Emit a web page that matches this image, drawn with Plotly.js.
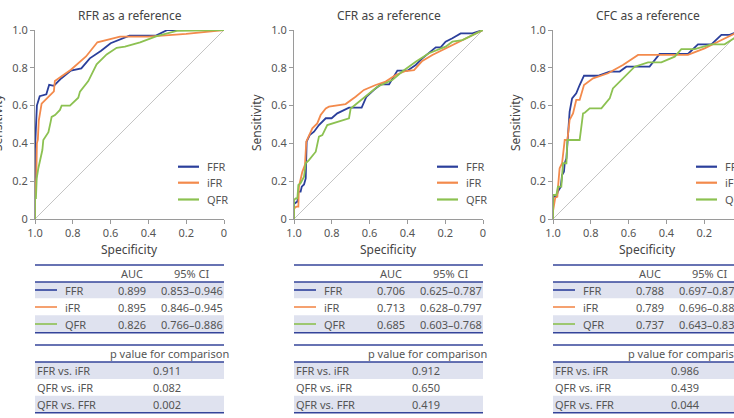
<!DOCTYPE html>
<html>
<head>
<meta charset="utf-8">
<script src="https://cdn.plot.ly/plotly-3.0.1.min.js"></script>
<style>
html,body{margin:0;padding:0;width:734px;height:418px;overflow:hidden;background:#fff;}
#chart{position:absolute;left:-20px;top:0;width:780px;height:418px;}
</style>
</head>
<body>
<div id="chart"></div>
<script>
// ---------- data ----------
const panelTitles = ["RFR as a reference", "CFR as a reference", "CFC as a reference"];
const seriesNames = ["FFR", "iFR", "QFR"];
const xTickVals = [1, 0.8, 0.6, 0.4, 0.2, 0];
const xTickText = ["1.0", "0.8", "0.6", "0.4", "0.2", "0"];
const yTickVals = [0, 0.2, 0.4, 0.6, 0.8, 1];
const yTickText = ["0", "0.2", "0.4", "0.6", "0.8", "1.0"];
const chanceSpec = [1, 0];
const chanceSens = [0, 1];

// Panel 1: RFR as a reference
const rfrFFRspec = [1, 1, 0.99, 0.975, 0.94, 0.925, 0.90, 0.86, 0.81, 0.755, 0.71, 0.65, 0.60, 0.55, 0.50, 0.36, 0.30, 0];
const rfrFFRsens = [0, 0.37, 0.60, 0.65, 0.66, 0.71, 0.705, 0.745, 0.785, 0.797, 0.85, 0.89, 0.93, 0.95, 0.97, 0.97, 1.0, 1.0];
const rfrIFRspec = [1, 1, 0.993, 0.99, 0.985, 0.98, 0.965, 0.90, 0.895, 0.86, 0.81, 0.73, 0.67, 0.55, 0.40, 0.2, 0];
const rfrIFRsens = [0, 0.12, 0.22, 0.40, 0.42, 0.52, 0.61, 0.675, 0.73, 0.755, 0.79, 0.86, 0.935, 0.965, 0.965, 0.98, 1.0];
const rfrQFRspec = [1, 1, 0.995, 0.991, 0.982, 0.97, 0.961, 0.956, 0.929, 0.917, 0.912, 0.894, 0.868, 0.859, 0.815, 0.771, 0.762, 0.718, 0.674, 0.621, 0.568, 0.524, 0.444, 0.356, 0.25, 0];
const rfrQFRsens = [0, 0.11, 0.11, 0.215, 0.27, 0.33, 0.365, 0.418, 0.459, 0.515, 0.54, 0.55, 0.577, 0.60, 0.60, 0.642, 0.674, 0.73, 0.818, 0.871, 0.906, 0.912, 0.935, 0.968, 0.995, 1.0];

// Panel 2: CFR as a reference
const cfrFFRspec = [1, 1, 0.982, 0.977, 0.965, 0.959, 0.947, 0.938, 0.933, 0.917, 0.894, 0.868, 0.832, 0.801, 0.771, 0.709, 0.642, 0.617, 0.577, 0.541, 0.497, 0.453, 0.40, 0.356, 0.321, 0.286, 0.25, 0.224, 0.198, 0.162, 0.118, 0.056, 0];
const cfrFFRsens = [0, 0.08, 0.092, 0.145, 0.145, 0.171, 0.183, 0.215, 0.41, 0.444, 0.462, 0.497, 0.533, 0.533, 0.559, 0.589, 0.589, 0.647, 0.683, 0.712, 0.712, 0.785, 0.785, 0.815, 0.85, 0.877, 0.908, 0.908, 0.938, 0.956, 0.982, 0.982, 1.0];
const cfrIFRspec = [1, 1, 0.988, 0.977, 0.974, 0.956, 0.942, 0.935, 0.903, 0.877, 0.859, 0.832, 0.815, 0.727, 0.674, 0.630, 0.568, 0.515, 0.462, 0.409, 0.365, 0.321, 0.268, 0.215, 0.162, 0.109, 0.056, 0];
const cfrIFRsens = [0, 0.056, 0.065, 0.065, 0.171, 0.25, 0.286, 0.409, 0.48, 0.506, 0.55, 0.585, 0.594, 0.608, 0.647, 0.683, 0.709, 0.727, 0.762, 0.783, 0.788, 0.836, 0.868, 0.894, 0.924, 0.947, 0.974, 1.0];
const cfrQFRspec = [1, 1, 0.991, 0.982, 0.977, 0.965, 0.947, 0.938, 0.921, 0.885, 0.868, 0.85, 0.824, 0.797, 0.762, 0.709, 0.70, 0.656, 0.612, 0.559, 0.48, 0.427, 0.356, 0.286, 0.198, 0.162, 0.109, 0.056, 0];
const cfrQFRsens = [0, 0.1, 0.109, 0.109, 0.18, 0.19, 0.224, 0.295, 0.312, 0.356, 0.436, 0.444, 0.497, 0.506, 0.515, 0.533, 0.585, 0.621, 0.656, 0.70, 0.735, 0.78, 0.832, 0.877, 0.912, 0.938, 0.947, 0.974, 1.0];

// Panel 3: CFC as a reference
const cfcFFRspec = [1, 1, 0.991, 0.982, 0.974, 0.959, 0.952, 0.942, 0.938, 0.929, 0.917, 0.912, 0.899, 0.877, 0.859, 0.836, 0.762, 0.70, 0.647, 0.612, 0.489, 0.436, 0.286, 0.233, 0.162, 0.109, 0.065, 0];
const cfcFFRsens = [0, 0.11, 0.123, 0.118, 0.145, 0.171, 0.233, 0.25, 0.295, 0.321, 0.497, 0.568, 0.638, 0.665, 0.709, 0.758, 0.758, 0.78, 0.78, 0.806, 0.806, 0.873, 0.873, 0.924, 0.924, 0.974, 0.974, 1.0];
const cfcIFRspec = [1, 1, 0.988, 0.977, 0.974, 0.965, 0.952, 0.938, 0.924, 0.917, 0.912, 0.894, 0.877, 0.859, 0.836, 0.788, 0.709, 0.630, 0.550, 0.286, 0.198, 0.127, 0.056, 0];
const cfcIFRsens = [0, 0.04, 0.113, 0.118, 0.162, 0.268, 0.295, 0.418, 0.418, 0.48, 0.524, 0.559, 0.63, 0.63, 0.709, 0.744, 0.771, 0.815, 0.868, 0.868, 0.903, 0.938, 0.974, 1.0];
const cfcQFRspec = [1, 1, 0.982, 0.974, 0.956, 0.947, 0.929, 0.924, 0.859, 0.841, 0.832, 0.806, 0.744, 0.70, 0.683, 0.621, 0.568, 0.497, 0.427, 0.356, 0.321, 0.25, 0.198, 0.162, 0.092, 0.042, 0];
const cfcQFRsens = [0, 0.127, 0.127, 0.171, 0.171, 0.295, 0.295, 0.418, 0.418, 0.559, 0.562, 0.585, 0.585, 0.638, 0.691, 0.753, 0.806, 0.829, 0.829, 0.859, 0.899, 0.899, 0.912, 0.924, 0.924, 0.956, 1.0];

// Tables
const tableHeaders = ["AUC", "95% CI"];
const aucFFR = ["0.899", "0.706", "0.788"];
const aucIFR = ["0.895", "0.713", "0.789"];
const aucQFR = ["0.826", "0.685", "0.737"];
const ciFFR = ["0.853–0.946", "0.625–0.787", "0.697–0.879"];
const ciIFR = ["0.846–0.945", "0.628–0.797", "0.696–0.882"];
const ciQFR = ["0.766–0.886", "0.603–0.768", "0.643–0.831"];
const compHeader = "p value for comparison";
const compLabels = ["FFR vs. iFR", "QFR vs. iFR", "QFR vs. FFR"];
const pFFRvsIFR = ["0.911", "0.912", "0.986"];
const pQFRvsIFR = ["0.082", "0.650", "0.439"];
const pQFRvsFFR = ["0.002", "0.419", "0.044"];

// ---------- styling / layout ----------
const colors = ["#2b3f9b", "#f38a4c", "#8cc151"];
const FONT = "Noto Sans, sans-serif";
const W = 780, H = 418, OFF = 20;
const plotLeft = [35, 294, 553];
const plotW = 189, plotTop = 30, plotBottom = 219;
const px = x => (x + OFF) / W;
const py = y => (H - y) / H;

const specs = [[rfrFFRspec, rfrIFRspec, rfrQFRspec], [cfrFFRspec, cfrIFRspec, cfrQFRspec], [cfcFFRspec, cfcIFRspec, cfcQFRspec]];
const sens = [[rfrFFRsens, rfrIFRsens, rfrQFRsens], [cfrFFRsens, cfrIFRsens, cfrQFRsens], [cfcFFRsens, cfcIFRsens, cfcQFRsens]];
const aucs = [aucFFR, aucIFR, aucQFR];
const cis = [ciFFR, ciIFR, ciQFR];
const pvals = [pFFRvsIFR, pQFRvsIFR, pQFRvsFFR];

const traces = [];
const layout = {
  width: W, height: H, autosize: false,
  margin: {l: 0, r: 0, t: 0, b: 0},
  paper_bgcolor: "#fff", plot_bgcolor: "rgba(0,0,0,0)",
  showlegend: false,
  font: {family: FONT, color: "#555", size: 11},
  shapes: [], annotations: []
};
const textColor = "#555";
const navy = "#34449a";
const band = "#dfe2ef";

for (let p = 0; p < 3; p++) {
  const sfx = p === 0 ? "" : String(p + 1);
  const L = plotLeft[p];
  layout["xaxis" + sfx] = {
    domain: [px(L), px(L + plotW)], anchor: "y" + sfx,
    range: [1, 0], tickvals: xTickVals, ticktext: xTickText,
    showline: true, linecolor: "#9a9a9a", linewidth: 1,
    ticks: "outside", ticklen: 4, tickcolor: "#9a9a9a",
    showgrid: false, zeroline: false, fixedrange: true,
    tickfont: {size: 11, color: textColor, family: FONT}
  };
  layout["yaxis" + sfx] = {
    domain: [py(plotBottom), py(plotTop)], anchor: "x" + sfx,
    range: [0, 1], tickvals: yTickVals, ticktext: yTickText,
    showline: true, linecolor: "#9a9a9a", linewidth: 1,
    ticks: "outside", ticklen: 4, tickcolor: "#9a9a9a",
    showgrid: false, zeroline: false, fixedrange: true,
    tickfont: {size: 11, color: textColor, family: FONT}
  };
  traces.push({x: chanceSpec, y: chanceSens, xaxis: "x" + sfx, yaxis: "y" + sfx,
    mode: "lines", line: {color: "#b5b5b5", width: 0.8}, hoverinfo: "skip"});
  for (let s = 0; s < 3; s++) {
    traces.push({x: specs[p][s], y: sens[p][s], xaxis: "x" + sfx, yaxis: "y" + sfx,
      mode: "lines", name: seriesNames[s], line: {color: colors[s], width: 1.8}, hoverinfo: "skip"});
  }
  // titles
  layout.annotations.push({text: panelTitles[p], xref: "paper", yref: "paper",
    x: px(L + plotW / 2), y: py(15), xanchor: "center", yanchor: "middle", showarrow: false,
    font: {size: 12, color: "#444", family: FONT}});
  layout.annotations.push({text: "Specificity", xref: "paper", yref: "paper",
    x: px(L + plotW / 2), y: py(249.5), xanchor: "center", yanchor: "middle", showarrow: false,
    font: {size: 12, color: "#444", family: FONT}});
  layout.annotations.push({text: "Sensitivity", xref: "paper", yref: "paper",
    x: px(L - 37), y: py(122), xanchor: "center", yanchor: "middle", showarrow: false, textangle: -90,
    font: {size: 12, color: "#444", family: FONT}});
  // in-plot legend
  const legY = [166.7, 182.7, 199.5];
  for (let s = 0; s < 3; s++) {
    layout.shapes.push({type: "line", xref: "paper", yref: "paper",
      x0: px(L + 143), x1: px(L + 164), y0: py(legY[s]), y1: py(legY[s]),
      line: {color: colors[s], width: 2.2}});
    layout.annotations.push({text: seriesNames[s], xref: "paper", yref: "paper",
      x: px(L + 170), y: py(legY[s]), xanchor: "left", yanchor: "middle", showarrow: false,
      font: {size: 11, color: textColor, family: FONT}});
  }
  // ---- AUC table ----
  const R = L + plotW;
  layout.shapes.push({type: "rect", xref: "paper", yref: "paper", x0: px(L), x1: px(R), y0: py(282), y1: py(298.3), fillcolor: band, line: {width: 0}, layer: "below"});
  layout.shapes.push({type: "rect", xref: "paper", yref: "paper", x0: px(L), x1: px(R), y0: py(315.3), y1: py(332.5), fillcolor: band, line: {width: 0}, layer: "below"});
  [265, 282, 332.7].forEach(yy => layout.shapes.push({type: "line", xref: "paper", yref: "paper",
    x0: px(L), x1: px(R), y0: py(yy), y1: py(yy), line: {color: navy, width: 1.4}}));
  layout.annotations.push({text: tableHeaders[0], xref: "paper", yref: "paper", x: px(L + 97), y: py(273.5),
    xanchor: "center", yanchor: "middle", showarrow: false, font: {size: 11, color: textColor, family: FONT}});
  layout.annotations.push({text: tableHeaders[1], xref: "paper", yref: "paper", x: px(L + 157), y: py(273.5),
    xanchor: "center", yanchor: "middle", showarrow: false, font: {size: 11, color: textColor, family: FONT}});
  const rowY = [290, 307, 324];
  for (let s = 0; s < 3; s++) {
    layout.shapes.push({type: "line", xref: "paper", yref: "paper",
      x0: px(L), x1: px(L + 22), y0: py(rowY[s]), y1: py(rowY[s]), line: {color: colors[s], width: 1.6}});
    layout.annotations.push({text: seriesNames[s], xref: "paper", yref: "paper", x: px(L + 28), y: py(rowY[s]),
      xanchor: "left", yanchor: "middle", showarrow: false, font: {size: 11, color: textColor, family: FONT}});
    layout.annotations.push({text: aucs[s][p], xref: "paper", yref: "paper", x: px(L + 97), y: py(rowY[s]),
      xanchor: "center", yanchor: "middle", showarrow: false, font: {size: 11, color: textColor, family: FONT}});
    layout.annotations.push({text: cis[s][p], xref: "paper", yref: "paper", x: px(L + 157), y: py(rowY[s]),
      xanchor: "center", yanchor: "middle", showarrow: false, font: {size: 11, color: textColor, family: FONT}});
  }
  // ---- p value table ----
  layout.shapes.push({type: "rect", xref: "paper", yref: "paper", x0: px(L), x1: px(R), y0: py(362), y1: py(379), fillcolor: band, line: {width: 0}, layer: "below"});
  layout.shapes.push({type: "rect", xref: "paper", yref: "paper", x0: px(L), x1: px(R), y0: py(395.7), y1: py(412.5), fillcolor: band, line: {width: 0}, layer: "below"});
  [345, 362, 412.7].forEach(yy => layout.shapes.push({type: "line", xref: "paper", yref: "paper",
    x0: px(L), x1: px(R), y0: py(yy), y1: py(yy), line: {color: navy, width: 1.4}}));
  layout.annotations.push({text: compHeader, xref: "paper", yref: "paper", x: px(L + 134), y: py(353.5),
    xanchor: "center", yanchor: "middle", showarrow: false, font: {size: 11, color: textColor, family: FONT}});
  const pRowY = [370.5, 387.5, 404];
  for (let c = 0; c < 3; c++) {
    layout.annotations.push({text: compLabels[c], xref: "paper", yref: "paper", x: px(L), y: py(pRowY[c]),
      xanchor: "left", yanchor: "middle", showarrow: false, font: {size: 11, color: textColor, family: FONT}});
    layout.annotations.push({text: pvals[c][p], xref: "paper", yref: "paper", x: px(L + 132), y: py(pRowY[c]),
      xanchor: "center", yanchor: "middle", showarrow: false, font: {size: 11, color: textColor, family: FONT}});
  }
}

Plotly.newPlot("chart", traces, layout, {staticPlot: true, displayModeBar: false});
</script>
</body>
</html>
